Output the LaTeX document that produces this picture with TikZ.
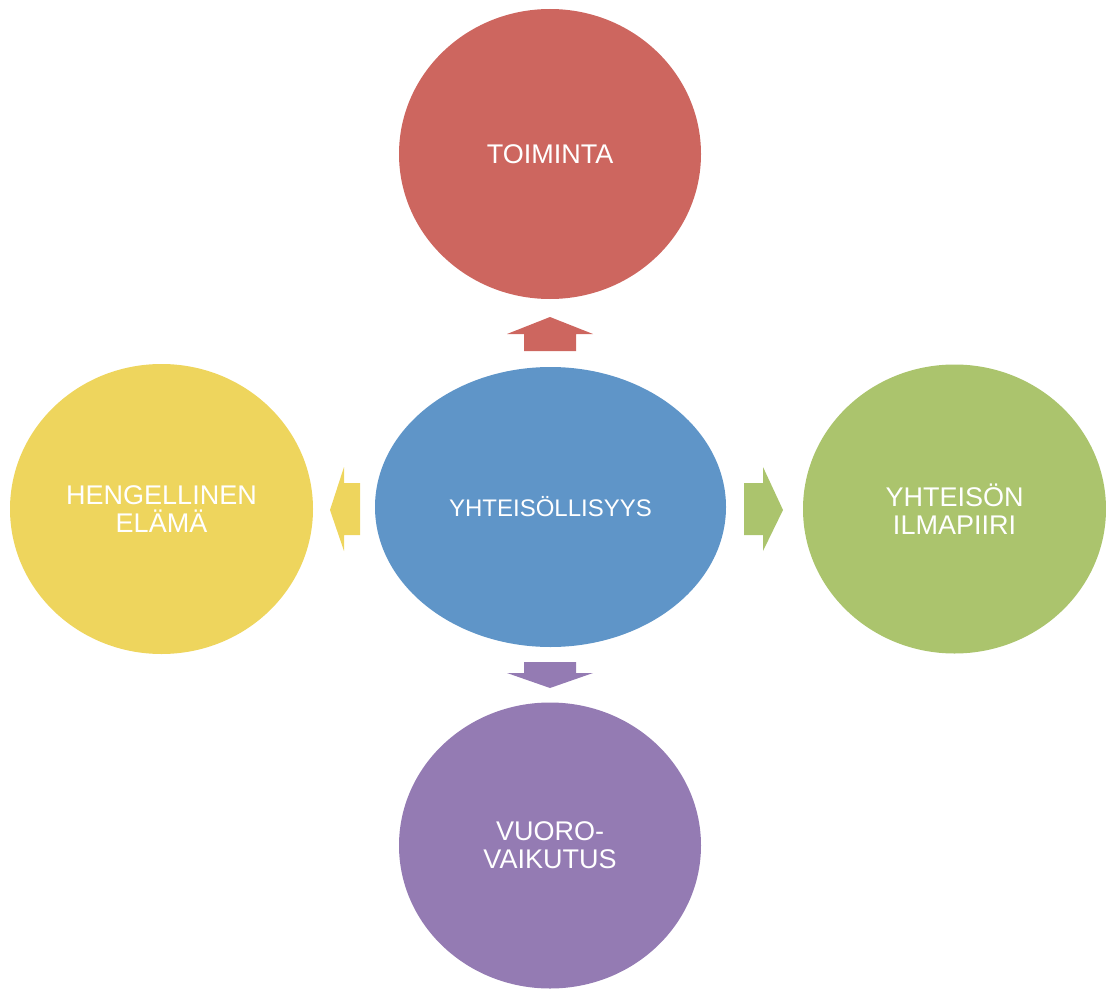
\documentclass[tikz,border=0pt]{standalone}
\usepackage{fontspec}
\setmainfont{Liberation Sans}
\usetikzlibrary{shapes.geometric}
\definecolor{cred}{HTML}{CD665F}
\definecolor{cblue}{HTML}{5F95C8}
\definecolor{cgreen}{HTML}{ABC46D}
\definecolor{cpurple}{HTML}{947BB3}
\definecolor{cyellow}{HTML}{EED55D}
\begin{document}
\begin{tikzpicture}[x=1pt,y=-1pt,
  bubble/.style={ellipse, fill=#1, draw=none, text=white, align=center,
    font=\fontsize{27}{28}\selectfont, inner sep=0pt},
  arrowshape/.style={fill=#1, draw=none}]
\useasboundingbox (0,0) rectangle (1106,990);
\node[bubble=cred, minimum width=302pt, minimum height=290pt] (top) at (550,154) {TOIMINTA};
\node[bubble=cyellow, minimum width=303pt, minimum height=290pt] (left) at (161.5,509) {HENGELLINEN\\ELÄMÄ};
\node[bubble=cgreen, minimum width=303pt, minimum height=289pt] (right) at (954.5,509) {YHTEISÖN\\ILMAPIIRI};
\node[bubble=cpurple, minimum width=302pt, minimum height=286pt] (bottom) at (550,845.5) {VUORO-\\VAIKUTUS};
\node[bubble=cblue, minimum width=351pt, minimum height=280pt, font=\fontsize{24}{26}\selectfont] (center) at (550.5,507) {YHTEISÖLLISYYS};
% block arrows
\fill[arrowshape=cred] (550,317) -- (593,334) -- (576,334) -- (576,351) -- (524,351) -- (524,334) -- (507,334) -- cycle;
\fill[arrowshape=cpurple] (550,688) -- (593,673) -- (576,673) -- (576,662) -- (524,662) -- (524,673) -- (507,673) -- cycle;
\fill[arrowshape=cyellow] (330,510) -- (344,467) -- (344,483) -- (360,483) -- (360,535) -- (344,535) -- (344,551) -- cycle;
\fill[arrowshape=cgreen] (783,510) -- (763,467) -- (763,483) -- (744,483) -- (744,535) -- (763,535) -- (763,551) -- cycle;
\end{tikzpicture}
\end{document}
